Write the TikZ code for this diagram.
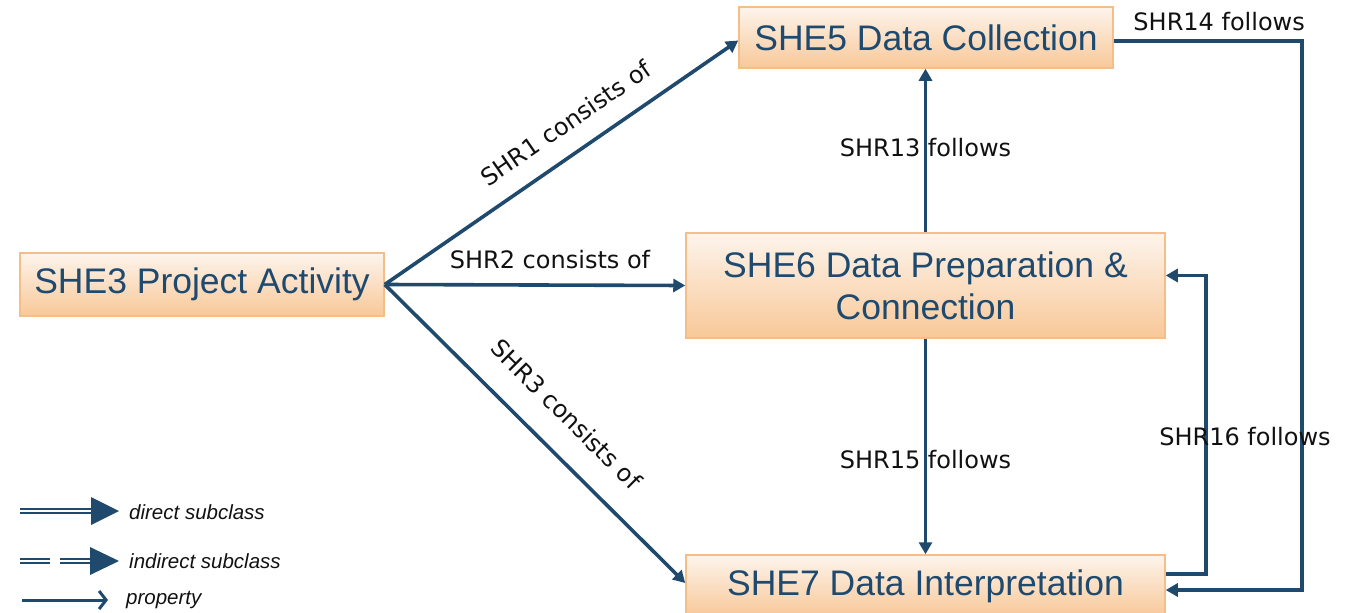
\documentclass[tikz,border=0pt]{standalone}
\usepackage{fontspec}
\setmainfont{Liberation Sans}
\newfontfamily\lblfont{DejaVu Sans}
\usetikzlibrary{arrows.meta}

\definecolor{navy}{HTML}{1F4A6E}
\definecolor{boxedge}{HTML}{F5BD88}
\definecolor{boxtop}{HTML}{FDF4EC}
\definecolor{boxbot}{HTML}{F8C898}
\definecolor{boxtext}{HTML}{1F4A70}
\definecolor{lbltext}{HTML}{111111}

\tikzset{
  entity/.style={draw=boxedge, line width=1.5pt, top color=boxtop, bottom color=boxbot,
    text=boxtext, font=\fontsize{35.5}{42}\selectfont, inner sep=0pt, align=center},
  rel/.style={draw=navy, line width=3.6pt, -{Triangle[length=12pt,width=13pt]}},
  rellabel/.style={font=\lblfont\fontsize{24}{28}\selectfont, text=lbltext, inner sep=0pt},
  legline/.style={draw=navy, line width=2.3pt, double=white, double distance=2.3pt},
  legtext/.style={anchor=west, inner sep=0pt, text=lbltext, font=\itshape\fontsize{20.5}{24}\selectfont},
}

\begin{document}
\begin{tikzpicture}[x=1pt,y=-1pt]
\useasboundingbox (0,0) rectangle (1360,613);

% entities
\node[entity, minimum width=364pt, minimum height=63pt] (she3) at (202,284.5) {SHE3 Project Activity};
\node[entity, minimum width=374pt, minimum height=61pt] (she5) at (926,37.5) {SHE5 Data Collection};
\node[entity, minimum width=479pt, minimum height=105pt] (she6) at (925.5,285.5) {SHE6 Data Preparation \&\\Connection};
\node[entity, minimum width=479pt, minimum height=62pt] (she7) at (925.5,586) {SHE7 Data Interpretation};

% "consists of" relations
\draw[rel] (she3.east) -- node[rellabel, sloped, above=19pt, pos=0.56] {SHR1 consists of} ([yshift=-3pt]she5.west);
\draw[rel] (she3.east) -- node[rellabel, above=14pt, pos=0.55] {SHR2 consists of} (she6.west);
\draw[rel] (she3.east) -- node[rellabel, sloped, above=25pt, pos=0.52] {SHR3 consists of} ([yshift=3pt]she7.west);

% "follows" relations
\draw[rel] (she6.north) -- node[rellabel, pos=0.52] {SHR13 follows} (she6.north |- she5.south);
\draw[rel] (she6.south) -- node[rellabel, pos=0.56] {SHR15 follows} (she6.south |- she7.north);

\coordinate (c14) at (1302,0);
\coordinate (c16) at (1206,0);
\coordinate (e16) at ([yshift=10pt]she6.east);
\draw[rel] ([yshift=-3.5pt]she5.east) coordinate (s14)
  -- node[rellabel, above=8pt, pos=0.56] {SHR14 follows} (s14 -| c14)
  |- ([yshift=-4pt]she7.east);
\draw[rel] ([yshift=12pt]she7.east) coordinate (s16)
  -- (s16 -| c16)
  -- node[rellabel, pos=0.46, xshift=39pt] {SHR16 follows} (e16 -| c16)
  -- (e16);

% legend
\coordinate (d0) at (20,511);
\coordinate (d1) at (93,511);
\draw[legline] (d0) -- (d1);
\fill[navy] (91,497) -- (119,511) -- (91,525) -- cycle;
\node[legtext] (ldirect) at (129,512) {direct subclass};

\draw[legline] (20,561) -- (50,561);
\draw[legline] (60,561) -- (93,561);
\fill[navy] (90,547) -- (119,561) -- (90,575) -- cycle;
\node[legtext] (lindirect) at (129,561) {indirect subclass};

\coordinate (p0) at (22,600);
\coordinate (p1) at (108,600);
\draw[navy, line width=3pt, -{Straight Barb[length=7pt,width=18pt]}] (p0) -- (p1);
\node[legtext] (lproperty) at (126,600) {property};
\end{tikzpicture}
\end{document}
